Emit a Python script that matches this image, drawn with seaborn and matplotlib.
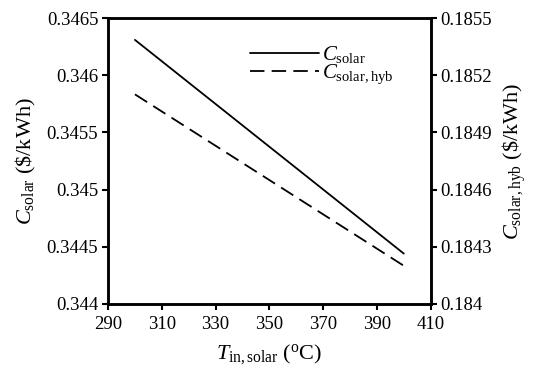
import matplotlib
matplotlib.use("Agg")
import matplotlib.pyplot as plt
import seaborn as sns
import pandas as pd

# Data
t_in_solar = [300, 400]
c_solar = [0.34631, 0.34444]
c_solar_hyb = [0.18510, 0.18420]

x_ticks = [290, 310, 330, 350, 370, 390, 410]
left_ticks = [0.344, 0.3445, 0.345, 0.3455, 0.346, 0.3465]
right_ticks = [0.184, 0.1843, 0.1846, 0.1849, 0.1852, 0.1855]

sns.set_style("ticks")
plt.rcParams["font.family"] = ["Liberation Serif", "DejaVu Serif"]
plt.rcParams["mathtext.fontset"] = "custom"
plt.rcParams["mathtext.rm"] = "Liberation Serif"
plt.rcParams["mathtext.it"] = "Liberation Serif:italic"
plt.rcParams["mathtext.bf"] = "Liberation Serif:bold"
plt.rcParams["axes.labelcolor"] = "black"
plt.rcParams["text.color"] = "black"

df1 = pd.DataFrame({"T": t_in_solar, "C": c_solar})
df2 = pd.DataFrame({"T": t_in_solar, "C": c_solar_hyb})

fig = plt.figure(figsize=(5.35, 3.71), dpi=100)
ax = fig.add_axes([0.202, 0.181, 0.603, 0.770])
ax2 = ax.twinx()

sns.lineplot(data=df1, x="T", y="C", ax=ax, color="black", lw=1.3,
             label=r"$C_{\mathrm{solar}}$", legend=False)
sns.lineplot(data=df2, x="T", y="C", ax=ax2, color="black", lw=1.3,
             label=r"$C_{\mathrm{solar,hyb}}$", legend=False)
ax2.lines[0].set_dashes((8, 4))

ax.set_xlim(290, 410)
ax.set_ylim(0.344, 0.3465)
ax2.set_ylim(0.184, 0.1855)
ax.set_xticks(x_ticks)
ax.set_xticklabels([str(v) for v in x_ticks])
ax.set_yticks(left_ticks)
ax.set_yticklabels(["0.344", "0.3445", "0.345", "0.3455", "0.346", "0.3465"])
ax2.set_yticks(right_ticks)
ax2.set_yticklabels(["0.184", "0.1843", "0.1846", "0.1849", "0.1852", "0.1855"])

for a in (ax, ax2):
    a.tick_params(direction="out", length=4, width=1.5, labelsize=13.5, pad=3, colors="black")
    for s in a.spines.values():
        s.set_linewidth(1.8)
        s.set_color("black")
ax.tick_params(axis="x", pad=5)

ax.set_xlabel(r"$T_{\mathrm{in,solar}}$ ($^{\mathrm{o}}$C)", fontsize=16, labelpad=6, color="black")
ax.set_ylabel(r"$C_{\mathrm{solar}}$ (\$/kWh)", fontsize=16, labelpad=6, color="black")
ax2.set_ylabel(r"$C_{\mathrm{solar,hyb}}$ (\$/kWh)", fontsize=16, rotation=90, labelpad=6, color="black")

h1, l1 = ax.get_legend_handles_labels()
h2, l2 = ax2.get_legend_handles_labels()
leg = ax2.legend(h1 + h2, l1 + l2, loc="upper left", bbox_to_anchor=(0.44, 0.91),
                 frameon=False, fontsize=15, handlelength=3.3, handletextpad=0.15,
                 labelspacing=-0.1, borderaxespad=0, borderpad=0)

fig.savefig("out.png", dpi=100)
